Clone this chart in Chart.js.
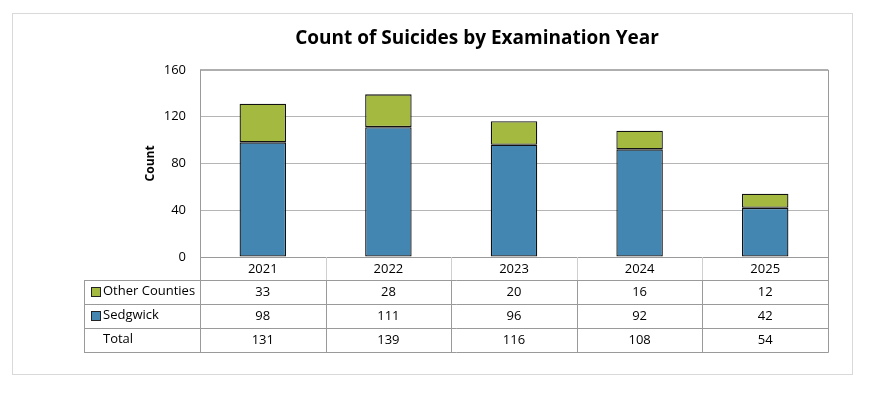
<!DOCTYPE html>
<html>
<head>
<meta charset="utf-8">
<script src="https://cdn.jsdelivr.net/npm/chart.js@4.4.1/dist/chart.umd.min.js"></script>
<style>
  html, body { margin: 0; padding: 0; background: #fff; }
  #wrap { position: relative; width: 874px; height: 394px; }
  #frame { position: absolute; left: 12px; top: 13px; width: 839px; height: 360px; border: 1px solid #d9d9d9; }
  #chart { position: absolute; left: 0; top: 0; }
</style>
</head>
<body>
<div id="wrap">
  <div id="frame"></div>
  <canvas id="chart" width="874" height="394"></canvas>
</div>
<script>
// data
const years = ['2021', '2022', '2023', '2024', '2025'];
const otherCounties = [33, 28, 20, 16, 12];
const sedgwick = [98, 111, 96, 92, 42];
const totals = [131, 139, 116, 108, 54];
const yTicks = [0, 40, 80, 120, 160];

const blue = '#4486b2';
const green = '#a3b93f';
const font = '"Open Sans", "Noto Sans", sans-serif';

// draws the plot frame and the data table under the chart
const tablePlugin = {
  id: 'dataTable',
  afterDraw(chart) {
    const ctx = chart.ctx;
    const area = chart.chartArea;
    const xs = chart.scales.x;
    const colW = (area.right - area.left) / years.length;
    const labelLeft = 84;
    const headTop = area.bottom;
    const rowH = 24;
    const headH = 23;

    ctx.save();
    // plot border
    ctx.strokeStyle = '#9a9a9a';
    ctx.lineWidth = 1;
    ctx.strokeRect(area.left + 0.5, area.top + 0.5, area.right - area.left, area.bottom - area.top);

    const rows = [
      { label: 'Other Counties', color: green, values: otherCounties },
      { label: 'Sedgwick', color: blue, values: sedgwick },
      { label: 'Total', color: null, values: totals }
    ];
    const tableBottom = headTop + headH + rowH * rows.length;

    // header column lines (lighter)
    ctx.strokeStyle = '#cfcfcf';
    for (let i = 1; i < years.length; i++) {
      const x = Math.round(area.left + colW * i) + 0.5;
      ctx.beginPath();
      ctx.moveTo(x, headTop);
      ctx.lineTo(x, headTop + headH);
      ctx.stroke();
    }

    ctx.strokeStyle = '#9a9a9a';
    // horizontal lines
    for (let r = 0; r <= rows.length; r++) {
      const y = headTop + headH + rowH * r + 0.5;
      ctx.beginPath();
      ctx.moveTo(labelLeft, y);
      ctx.lineTo(area.right + 0.5, y);
      ctx.stroke();
    }
    // outer verticals
    ctx.beginPath();
    ctx.moveTo(labelLeft + 0.5, headTop + headH);
    ctx.lineTo(labelLeft + 0.5, tableBottom + 0.5);
    ctx.moveTo(area.left + 0.5, headTop);
    ctx.lineTo(area.left + 0.5, tableBottom + 0.5);
    ctx.moveTo(area.right + 0.5, headTop);
    ctx.lineTo(area.right + 0.5, tableBottom + 0.5);
    ctx.stroke();
    // inner verticals in body
    for (let i = 1; i < years.length; i++) {
      const x = Math.round(area.left + colW * i) + 0.5;
      ctx.beginPath();
      ctx.moveTo(x, headTop + headH);
      ctx.lineTo(x, tableBottom);
      ctx.stroke();
    }

    // text
    ctx.fillStyle = '#000';
    ctx.font = '13px ' + font;
    ctx.textAlign = 'center';
    ctx.textBaseline = 'middle';
    years.forEach((yr, i) => {
      ctx.fillText(yr, xs.getPixelForValue(i), headTop + headH / 2 + 1);
    });
    rows.forEach((row, r) => {
      const cy = headTop + headH + rowH * r + rowH / 2;
      row.values.forEach((v, i) => {
        ctx.textAlign = 'center';
        ctx.fillText(String(v), xs.getPixelForValue(i), cy);
      });
      if (row.color) {
        ctx.fillStyle = row.color;
        ctx.fillRect(91, cy - 5, 9, 9);
        ctx.strokeStyle = '#222';
        ctx.strokeRect(91.5, cy - 4.5, 9, 9);
        ctx.fillStyle = '#000';
      }
      ctx.textAlign = 'left';
      ctx.fillText(row.label, 103, cy - 1);
    });
    ctx.restore();
  }
};

new Chart(document.getElementById('chart'), {
  type: 'bar',
  data: {
    labels: years,
    datasets: [
      {
        label: 'Sedgwick',
        data: sedgwick,
        backgroundColor: blue,
        borderColor: '#111',
        borderWidth: 1.3,
        borderSkipped: false
      },
      {
        label: 'Other Counties',
        data: otherCounties,
        backgroundColor: green,
        borderColor: '#111',
        borderWidth: 1.3,
        borderSkipped: false
      }
    ]
  },
  options: {
    responsive: false,
    animation: false,
    events: [],
    layout: { padding: { left: 126, right: 46, top: 23, bottom: 137 } },
    datasets: { bar: { categoryPercentage: 1, barPercentage: 0.37 } },
    plugins: {
      legend: { display: false },
      tooltip: { enabled: false },
      title: {
        display: true,
        text: 'Count of Suicides by Examination Year',
        color: '#000',
        font: { family: font, size: 19, weight: 'bold' },
        padding: { top: 4, bottom: 20 }
      }
    },
    scales: {
      x: {
        stacked: true,
        display: false
      },
      y: {
        stacked: true,
        min: 0,
        max: 160,
        afterBuildTicks(scale) {
          scale.ticks = yTicks.map(v => ({ value: v }));
        },
        afterFit(scale) { scale.width = 74; },
        grid: { color: '#b5b5b5', drawTicks: false },
        border: { display: false },
        ticks: {
          color: '#000',
          padding: 14,
          font: { family: font, size: 13 }
        },
        title: {
          display: true,
          text: 'Count',
          color: '#000',
          font: { family: font, size: 12, weight: 'bold' },
          padding: { top: 17, bottom: 0 }
        }
      }
    }
  },
  plugins: [tablePlugin]
});
</script>
</body>
</html>
